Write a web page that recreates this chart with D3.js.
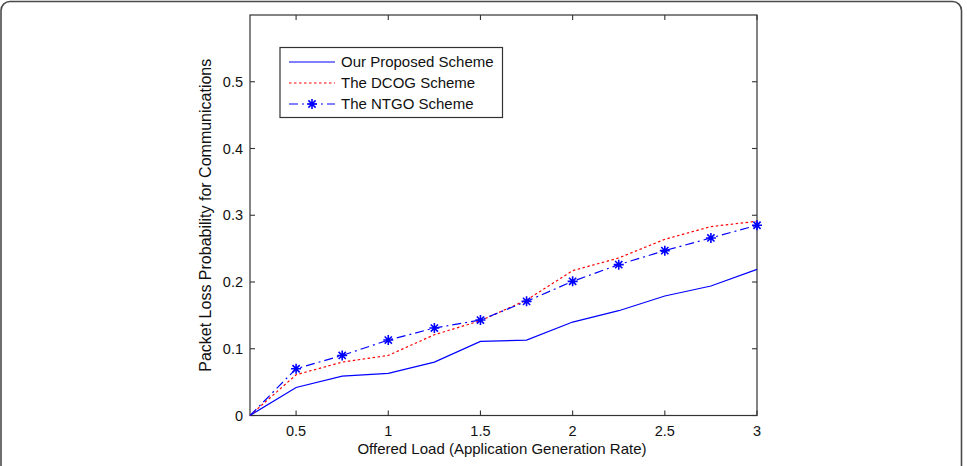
<!DOCTYPE html>
<html>
<head>
<meta charset="utf-8">
<script src="https://cdn.jsdelivr.net/npm/d3@7"></script>
<style>
  body { margin: 0; background: #fff; }
  svg { display: block; font-family: "Liberation Sans", Arial, sans-serif; }
</style>
</head>
<body>
<div id="chart"></div>
<script>
(() => {
  const width = 967;
  const height = 466;

  // data
  const loads = [0.25, 0.5, 0.75, 1, 1.25, 1.5, 1.75, 2, 2.25, 2.5, 2.75, 3];
  const proposed = [0, 0.042, 0.059, 0.063, 0.080, 0.111, 0.113, 0.140, 0.157, 0.179, 0.194, 0.219];
  const dcog = [0, 0.061, 0.080, 0.090, 0.121, 0.142, 0.173, 0.217, 0.236, 0.264, 0.283, 0.291];
  const ntgo = [0, 0.070, 0.090, 0.113, 0.131, 0.143, 0.171, 0.201, 0.226, 0.247, 0.266, 0.285];
  const xTicks = [0.5, 1, 1.5, 2, 2.5, 3];
  const yTicks = [0, 0.1, 0.2, 0.3, 0.4, 0.5];

  const series = [
    { name: "Our Proposed Scheme", values: proposed, color: "#0000ff", dash: null, marker: false },
    { name: "The DCOG Scheme", values: dcog, color: "#ff0000", dash: "2.5,2.5", marker: false },
    { name: "The NTGO Scheme", values: ntgo, color: "#0000ff", dash: "9,4,2,4", marker: true }
  ];

  const plot = { left: 250, right: 757, top: 15, bottom: 415.5 };

  const x = d3.scaleLinear().domain([0.25, 3]).range([plot.left, plot.right]);
  const y = d3.scaleLinear().domain([0, 0.6]).range([plot.bottom, plot.top]);

  const svg = d3.select("#chart")
    .append("svg")
    .attr("width", width)
    .attr("height", height);

  // outer rounded frame
  svg.append("rect")
    .attr("x", 1).attr("y", 1.5)
    .attr("width", 960.5).attr("height", 520)
    .attr("rx", 9)
    .attr("fill", "none")
    .attr("stroke", "#4a4a4a")
    .attr("stroke-width", 1.6);

  // axes box
  svg.append("rect")
    .attr("x", plot.left).attr("y", plot.top)
    .attr("width", plot.right - plot.left).attr("height", plot.bottom - plot.top)
    .attr("fill", "#fff")
    .attr("stroke", "#333")
    .attr("stroke-width", 1.2);

  const tickLen = 5;
  const ticks = svg.append("g").attr("stroke", "#333").attr("stroke-width", 1.1);
  xTicks.forEach(t => {
    ticks.append("line").attr("x1", x(t)).attr("x2", x(t)).attr("y1", plot.bottom).attr("y2", plot.bottom - tickLen);
    ticks.append("line").attr("x1", x(t)).attr("x2", x(t)).attr("y1", plot.top).attr("y2", plot.top + tickLen);
  });
  yTicks.forEach(t => {
    ticks.append("line").attr("x1", plot.left).attr("x2", plot.left + tickLen).attr("y1", y(t)).attr("y2", y(t));
    ticks.append("line").attr("x1", plot.right).attr("x2", plot.right - tickLen).attr("y1", y(t)).attr("y2", y(t));
  });

  // tick labels
  svg.append("g")
    .attr("font-size", 14.5)
    .attr("fill", "#111")
    .attr("text-anchor", "middle")
    .selectAll("text")
    .data(xTicks)
    .join("text")
    .attr("x", d => x(d))
    .attr("y", 436)
    .text(d => d);

  svg.append("g")
    .attr("font-size", 14.5)
    .attr("fill", "#111")
    .attr("text-anchor", "end")
    .selectAll("text")
    .data(yTicks)
    .join("text")
    .attr("x", 243)
    .attr("y", d => y(d) + 5)
    .text(d => d);

  // axis titles
  svg.append("text")
    .attr("x", 502)
    .attr("y", 454)
    .attr("text-anchor", "middle")
    .attr("font-size", 15)
    .attr("fill", "#111")
    .text("Offered Load (Application Generation Rate)");

  svg.append("text")
    .attr("transform", `translate(211,${(plot.top + plot.bottom) / 2}) rotate(-90)`)
    .attr("text-anchor", "middle")
    .attr("font-size", 16)
    .attr("fill", "#111")
    .text("Packet Loss Probability for Communications");

  const line = d3.line()
    .x((d, i) => x(loads[i]))
    .y(d => y(d));

  const star = (g, cx, cy, color) => {
    const r = 5;
    const k = r * 0.72;
    g.append("path")
      .attr("d", `M${cx - r},${cy}H${cx + r}M${cx},${cy - r}V${cy + r}` +
        `M${cx - k},${cy - k}L${cx + k},${cy + k}M${cx - k},${cy + k}L${cx + k},${cy - k}`)
      .attr("stroke", color)
      .attr("stroke-width", 1.6)
      .attr("fill", "none");
  };

  series.forEach(s => {
    svg.append("path")
      .datum(s.values)
      .attr("d", line)
      .attr("fill", "none")
      .attr("stroke", s.color)
      .attr("stroke-width", 1.2)
      .attr("stroke-dasharray", s.dash);
    if (s.marker) {
      const g = svg.append("g");
      s.values.forEach((v, i) => {
        if (i > 0) star(g, x(loads[i]), y(v), s.color);
      });
    }
  });

  // legend
  const legend = svg.append("g");
  legend.append("rect")
    .attr("x", 280).attr("y", 47.5)
    .attr("width", 222.5).attr("height", 70)
    .attr("fill", "#fff")
    .attr("stroke", "#333")
    .attr("stroke-width", 1.2);

  series.forEach((s, i) => {
    const ly = 62 + i * 21;
    legend.append("line")
      .attr("x1", 289).attr("x2", 335)
      .attr("y1", ly).attr("y2", ly)
      .attr("stroke", s.color)
      .attr("stroke-width", 1.2)
      .attr("stroke-dasharray", s.dash);
    if (s.marker) star(legend, 312, ly, s.color);
    legend.append("text")
      .attr("x", 341)
      .attr("y", ly + 5)
      .attr("font-size", 15)
      .attr("fill", "#111")
      .text(s.name);
  });
})();
</script>
</body>
</html>
